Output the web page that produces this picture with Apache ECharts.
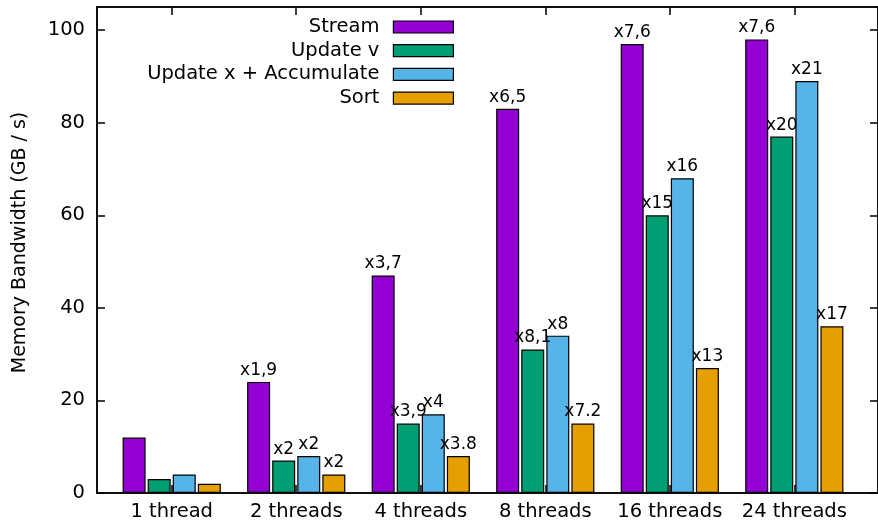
<!DOCTYPE html>
<html>
<head>
<meta charset="utf-8">
<title>Memory Bandwidth</title>
<script src="https://cdn.jsdelivr.net/npm/echarts@6/dist/echarts.min.js"></script>
<style>
	html, body { margin: 0; padding: 0; background: #fff; }
	#myChart { width: 878px; height: 529px; }
</style>
</head>
<body>
<div id="myChart"></div>
<script>
	// categories and values
	var categories = ['1 thread', '2 threads', '4 threads', '8 threads', '16 threads', '24 threads'];
	var seriesNames = ['Stream', 'Update v', 'Update x + Accumulate', 'Sort'];
	var streamValues = [12, 24, 47, 83, 97, 98];
	var updateVValues = [3, 7, 15, 31, 60, 77];
	var updateXValues = [4, 8, 17, 34, 68, 89];
	var sortValues = [2, 4, 8, 15, 27, 36];
	var streamLabels = ['', 'x1,9', 'x3,7', 'x6,5', 'x7,6', 'x7,6'];
	var updateVLabels = ['', 'x2', 'x3,9', 'x8,1', 'x15', 'x20'];
	var updateXLabels = ['', 'x2', 'x4', 'x8', 'x16', 'x21'];
	var sortLabels = ['', 'x2', 'x3.8', 'x7.2', 'x13', 'x17'];
	var yTicks = [0, 20, 40, 60, 80, 100];

	var colors = ['#9400d3', '#009e73', '#56b4e9', '#e69f00'];
	var font = 'DejaVu Sans';
	var catIdx = categories.map(function(c, i) { return i; });

	function makeSeries(name, values, labels, color) {
		return {
			name: name,
			type: 'bar',
			barWidth: 23,
			barGap: '9%',
			itemStyle: { color: color, borderColor: '#000', borderWidth: 1.2 },
			label: {
				show: true,
				position: 'top',
				distance: 3,
				fontFamily: font,
				fontSize: 17,
				color: '#000',
				formatter: function(p) { return labels[p.dataIndex]; }
			},
			data: values.map(function(v, i) { return [i, v]; })
		};
	}

	var myChart = echarts.init(document.getElementById('myChart'));
	myChart.setOption({
		animation: false,
		textStyle: { fontFamily: font },
		grid: {
			left: 97, top: 7, width: 784, bottom: 36,
			show: true, borderColor: '#000', borderWidth: 1.5
		},
		legend: {
			orient: 'vertical',
			align: 'right',
			right: 424,
			top: 17,
			padding: 0,
			itemWidth: 60,
			itemHeight: 12,
			itemGap: 3.7,
			icon: 'rect',
			itemStyle: { borderColor: '#000', borderWidth: 1.2 },
			textStyle: { fontFamily: font, fontSize: 19.5, lineHeight: 20, color: '#000', padding: [0, 9, 0, 0] },
			data: seriesNames
		},
		xAxis: [{
			type: 'value',
			min: -0.6,
			max: 5.672,
			position: 'bottom',
			splitLine: { show: false },
			axisLine: { show: true, onZero: false, lineStyle: { color: '#000', width: 1.5 } },
			axisTick: { show: true, inside: true, length: 8, customValues: catIdx, lineStyle: { color: '#000', width: 1.5 } },
			axisLabel: {
				customValues: catIdx,
				margin: 9,
				fontFamily: font,
				fontSize: 19.5,
				color: '#000',
				formatter: function(v) { return categories[Math.round(v)]; }
			}
		}, {
			type: 'value',
			min: -0.6,
			max: 5.672,
			position: 'top',
			splitLine: { show: false },
			axisLine: { show: true, onZero: false, lineStyle: { color: '#000', width: 1.5 } },
			axisTick: { show: true, inside: true, length: 8, customValues: catIdx, lineStyle: { color: '#000', width: 1.5 } },
			axisLabel: { show: false }
		}],
		yAxis: [{
			type: 'value',
			min: 0,
			max: 105,
			position: 'left',
			name: 'Memory Bandwidth (GB / s)',
			nameLocation: 'middle',
			nameGap: 67,
			nameTextStyle: { fontFamily: font, fontSize: 19, color: '#000', padding: [0, 0, 0, 15] },
			splitLine: { show: false },
			axisLine: { show: true, onZero: false, lineStyle: { color: '#000', width: 1.5 } },
			axisTick: { show: true, inside: true, length: 8, customValues: yTicks, lineStyle: { color: '#000', width: 1.5 } },
			axisLabel: { customValues: yTicks, margin: 12, fontFamily: font, fontSize: 19.5, color: '#000' }
		}, {
			type: 'value',
			min: 0,
			max: 105,
			position: 'right',
			splitLine: { show: false },
			axisLine: { show: true, onZero: false, lineStyle: { color: '#000', width: 1.5 } },
			axisTick: { show: true, inside: true, length: 8, customValues: yTicks, lineStyle: { color: '#000', width: 1.5 } },
			axisLabel: { show: false }
		}],
		series: [
			makeSeries(seriesNames[0], streamValues, streamLabels, colors[0]),
			makeSeries(seriesNames[1], updateVValues, updateVLabels, colors[1]),
			makeSeries(seriesNames[2], updateXValues, updateXLabels, colors[2]),
			makeSeries(seriesNames[3], sortValues, sortLabels, colors[3])
		]
	});
</script>
</body>
</html>
